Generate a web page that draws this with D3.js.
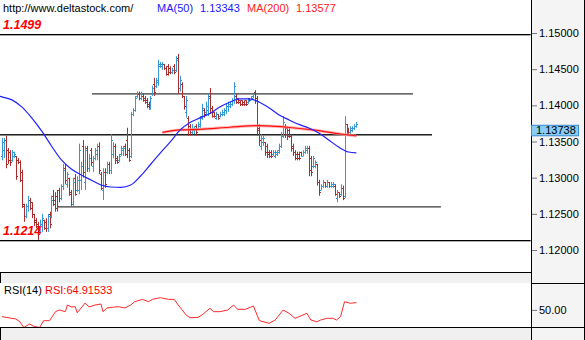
<!DOCTYPE html>
<html><head><meta charset="utf-8">
<script src="https://cdn.jsdelivr.net/npm/d3@7"></script>
<style>body{margin:0;background:#fff}svg{display:block}text{font-family:"Liberation Sans",Arial,sans-serif}</style>
</head><body><svg id="c" width="585" height="340"></svg>
<script>
// ---------- DATA ----------
const opens=[
1.1330,1.1338,1.1352,1.1338,1.1336,1.1324,1.1330,1.1330,1.1324,1.1322,
1.1308,1.1264,1.1247,1.1261,1.1269,1.1266,1.1250,1.1242,1.1236,1.1225,
1.1233,1.1242,1.1239,1.1230,1.1250,1.1247,1.1275,1.1269,1.1275,1.1283,
1.1272,1.1289,1.1313,1.1291,1.1300,1.1280,1.1264,1.1300,1.1283,1.1283,
1.1297,1.1344,1.1294,1.1341,1.1313,1.1338,1.1316,1.1327,1.1333,1.1344,
1.1305,1.1283,1.1308,1.1308,1.1319,1.1311,1.1333,1.1344,1.1327,1.1324,
1.1333,1.1338,1.1344,1.1352,1.1338,1.1330,1.1388,1.1394,1.1413,1.1416,
1.1410,1.1413,1.1410,1.1407,1.1402,1.1396,1.1416,1.1430,1.1427,1.1432,
1.1454,1.1454,1.1457,1.1452,1.1454,1.1452,1.1446,1.1454,1.1449,1.1466,
1.1424,1.1430,1.1413,1.1391,1.1383,1.1371,1.1363,1.1366,1.1371,1.1369,
1.1371,1.1385,1.1394,1.1391,1.1394,1.1413,1.1396,1.1391,1.1383,1.1388,
1.1385,1.1388,1.1388,1.1394,1.1399,1.1399,1.1402,1.1407,1.1413,1.1410,
1.1407,1.1407,1.1405,1.1407,1.1405,1.1410,1.1407,1.1410,1.1419,1.1410,
1.1369,1.1344,1.1349,1.1349,1.1344,1.1336,1.1336,1.1333,1.1330,1.1333,
1.1336,1.1344,1.1358,1.1371,1.1369,1.1366,1.1358,1.1344,1.1336,1.1333,
1.1333,1.1336,1.1330,1.1336,1.1338,1.1341,1.1327,1.1316,1.1316,1.1319,
1.1294,1.1283,1.1289,1.1294,1.1289,1.1294,1.1289,1.1289,1.1289,1.1272,
1.1280,1.1277,1.1286,1.1275,1.1374,1.1366,1.1363,1.1366,1.1369,1.1371];
const highs=[
1.1355,1.1355,1.1358,1.1341,1.1338,1.1338,1.1336,1.1330,1.1327,1.1324,
1.1311,1.1264,1.1264,1.1275,1.1272,1.1266,1.1250,1.1244,1.1239,1.1242,
1.1250,1.1242,1.1244,1.1250,1.1253,1.1275,1.1283,1.1280,1.1283,1.1286,
1.1291,1.1319,1.1319,1.1308,1.1300,1.1283,1.1300,1.1305,1.1302,1.1347,
1.1322,1.1352,1.1344,1.1344,1.1333,1.1341,1.1330,1.1341,1.1347,1.1349,
1.1308,1.1313,1.1313,1.1322,1.1322,1.1360,1.1349,1.1347,1.1330,1.1333,
1.1344,1.1344,1.1347,1.1369,1.1341,1.1391,1.1396,1.1413,1.1419,1.1419,
1.1419,1.1416,1.1413,1.1410,1.1405,1.1413,1.1427,1.1438,1.1438,1.1463,
1.1460,1.1460,1.1457,1.1454,1.1457,1.1454,1.1452,1.1457,1.1468,1.1471,
1.1441,1.1432,1.1413,1.1413,1.1385,1.1374,1.1374,1.1371,1.1374,1.1377,
1.1385,1.1402,1.1396,1.1405,1.1416,1.1424,1.1399,1.1391,1.1391,1.1388,
1.1391,1.1394,1.1396,1.1402,1.1405,1.1405,1.1410,1.1432,1.1416,1.1410,
1.1407,1.1407,1.1407,1.1407,1.1410,1.1410,1.1413,1.1416,1.1421,1.1413,
1.1374,1.1360,1.1358,1.1349,1.1347,1.1338,1.1338,1.1338,1.1338,1.1338,
1.1347,1.1363,1.1385,1.1374,1.1371,1.1369,1.1360,1.1347,1.1338,1.1336,
1.1336,1.1336,1.1338,1.1344,1.1344,1.1344,1.1330,1.1330,1.1324,1.1319,
1.1297,1.1291,1.1297,1.1294,1.1297,1.1294,1.1294,1.1294,1.1291,1.1283,
1.1280,1.1291,1.1289,1.1385,1.1374,1.1369,1.1371,1.1371,1.1374,1.1377];
const lows=[
1.1324,1.1327,1.1313,1.1319,1.1316,1.1322,1.1327,1.1297,1.1319,1.1294,
1.1258,1.1239,1.1244,1.1253,1.1255,1.1244,1.1233,1.1230,1.1214,1.1222,
1.1225,1.1228,1.1225,1.1225,1.1230,1.1244,1.1261,1.1253,1.1253,1.1266,
1.1269,1.1283,1.1291,1.1286,1.1275,1.1261,1.1261,1.1275,1.1280,1.1277,
1.1283,1.1300,1.1283,1.1308,1.1308,1.1316,1.1308,1.1324,1.1324,1.1305,
1.1283,1.1269,1.1286,1.1305,1.1305,1.1305,1.1327,1.1319,1.1319,1.1322,
1.1330,1.1330,1.1330,1.1327,1.1322,1.1327,1.1385,1.1391,1.1410,1.1407,
1.1407,1.1405,1.1402,1.1396,1.1394,1.1394,1.1413,1.1413,1.1424,1.1427,
1.1452,1.1449,1.1449,1.1441,1.1441,1.1443,1.1443,1.1443,1.1446,1.1416,
1.1419,1.1410,1.1394,1.1383,1.1358,1.1358,1.1360,1.1360,1.1358,1.1366,
1.1369,1.1380,1.1383,1.1385,1.1385,1.1388,1.1383,1.1383,1.1380,1.1380,
1.1383,1.1385,1.1385,1.1388,1.1391,1.1396,1.1399,1.1402,1.1402,1.1402,
1.1399,1.1399,1.1399,1.1399,1.1402,1.1405,1.1407,1.1410,1.1402,1.1358,
1.1344,1.1338,1.1344,1.1330,1.1327,1.1327,1.1327,1.1330,1.1327,1.1330,
1.1333,1.1341,1.1355,1.1355,1.1352,1.1355,1.1336,1.1330,1.1324,1.1324,
1.1324,1.1330,1.1330,1.1333,1.1333,1.1302,1.1302,1.1313,1.1313,1.1289,
1.1275,1.1283,1.1286,1.1286,1.1286,1.1286,1.1286,1.1286,1.1275,1.1266,
1.1272,1.1275,1.1269,1.1272,1.1360,1.1358,1.1360,1.1363,1.1366,1.1369];
const closes=[
1.1349,1.1352,1.1319,1.1324,1.1322,1.1336,1.1333,1.1302,1.1322,1.1297,
1.1261,1.1247,1.1261,1.1269,1.1258,1.1250,1.1239,1.1233,1.1222,1.1236,
1.1244,1.1230,1.1230,1.1247,1.1236,1.1269,1.1264,1.1258,1.1261,1.1272,
1.1289,1.1311,1.1297,1.1305,1.1277,1.1264,1.1294,1.1277,1.1297,1.1338,
1.1316,1.1308,1.1338,1.1313,1.1327,1.1322,1.1327,1.1338,1.1344,1.1311,
1.1286,1.1308,1.1291,1.1319,1.1311,1.1352,1.1344,1.1324,1.1322,1.1330,
1.1341,1.1341,1.1333,1.1338,1.1324,1.1388,1.1394,1.1410,1.1416,1.1410,
1.1416,1.1407,1.1405,1.1399,1.1396,1.1410,1.1424,1.1419,1.1435,1.1457,
1.1457,1.1457,1.1452,1.1443,1.1446,1.1446,1.1449,1.1446,1.1463,1.1424,
1.1435,1.1413,1.1399,1.1407,1.1366,1.1363,1.1369,1.1369,1.1363,1.1374,
1.1383,1.1396,1.1388,1.1399,1.1410,1.1396,1.1385,1.1385,1.1388,1.1383,
1.1388,1.1391,1.1394,1.1399,1.1402,1.1402,1.1407,1.1427,1.1405,1.1405,
1.1402,1.1402,1.1402,1.1402,1.1407,1.1407,1.1413,1.1416,1.1407,1.1366,
1.1352,1.1355,1.1355,1.1336,1.1333,1.1330,1.1330,1.1336,1.1336,1.1338,
1.1344,1.1358,1.1377,1.1360,1.1358,1.1358,1.1341,1.1336,1.1327,1.1327,
1.1327,1.1330,1.1336,1.1341,1.1341,1.1311,1.1308,1.1327,1.1322,1.1294,
1.1280,1.1289,1.1294,1.1289,1.1294,1.1289,1.1291,1.1291,1.1277,1.1280,
1.1275,1.1286,1.1272,1.1374,1.1363,1.1360,1.1369,1.1369,1.1371,1.13738];

const ma50Idx=[-1,0,5,10,15,20,25,30,35,40,45,50,55,60,65,70,75,80,85,90,95,100,105,110,115,120,125,130,135,140,145,150,155,160,165,170,175,179];
const ma50Val=[1.14125,1.14116,1.14075,1.13978,1.13826,1.13646,1.13438,1.13245,1.13120,1.13037,1.12968,1.12899,1.12871,1.12867,1.12899,1.13023,1.13182,1.13342,1.13494,1.13660,1.13763,1.13826,1.13886,1.13978,1.14043,1.14088,1.14088,1.14043,1.13964,1.13867,1.13798,1.13736,1.13687,1.13618,1.13521,1.13424,1.13355,1.13343];
const ma200Idx=[81,90,100,115,129,134,144,157,171,179];
const ma200Val=[1.13625,1.13660,1.13669,1.13697,1.13719,1.13715,1.13697,1.13660,1.13604,1.13577];

const rsiIdx=[0,4,7,9,11,14,16,19,21,24,27,29,32,33,35,37,38,40,42,44,47,50,51,53,57,59,62,65,67,71,74,76,80,84,87,89,91,93,95,99,101,103,105,107,110,114,117,119,123,127,130,135,138,142,145,148,150,154,156,159,161,164,167,169,171,173,176,179];
const rsiVal=[36.1,33.4,31.4,25.8,14,21.1,16.5,14,27.9,27.9,46.3,49.8,46.3,60,56,56.5,44.2,53.9,64.1,55.9,60,62,46.3,53.9,55.9,56.5,53.9,60,66.7,71.6,66.7,71.6,74.9,71.6,71.6,60,49.8,39.5,34,34.8,39.5,46.3,53.2,46.3,46.3,49.8,60,51.2,51.2,57.9,27.9,22.6,29.3,49.8,43,32.8,36.1,43,29.3,25.8,29.3,32.8,32.8,29.3,36.1,66.7,63.5,64.91533];

const levelPrices=[1.1499,1.1214,1.14175,1.13597,1.12613];
const levelFrom=[-1,-1,45.5,-1,27.8];
const levelTo=[267,267,207.6,217.2,221.7];
const levelKind=['black','black','gray','dark','gray'];
const levelLabels=['1.1499','1.1214'];

const priceTicks=[1.12,1.125,1.13,1.135,1.14,1.145,1.15];
const rsiTicks=[50];
const lastPrice=1.13738;
const ma50Last=1.13343, ma200Last=1.13577, rsiLast=64.91533;

// ---------- DRAW ----------
const W=585,H=340,PR=531;
const svg=d3.select('#c');
const x=d3.scaleLinear().domain([0,179]).range([2,356.4]);
const y=d3.scaleLinear().domain([1.12,1.15]).range([250,33]);
const yr=d3.scaleLinear().domain([15,105]).range([327,283]);

svg.append('rect').attr('width',W).attr('height',H).attr('fill','#fff');
svg.append('rect').attr('x',0).attr('y',272).attr('width',PR).attr('height',11).attr('fill','#f0f0f0');
svg.append('rect').attr('x',0).attr('y',327).attr('width',PR).attr('height',13).attr('fill','#f0f0f0');
svg.append('rect').attr('x',PR).attr('y',0).attr('width',W-PR).attr('height',H).attr('fill','#f4f4f4');

const defs=svg.append('defs');
defs.append('clipPath').attr('id','cp').append('rect').attr('x',0).attr('y',0).attr('width',PR).attr('height',272);
defs.append('clipPath').attr('id','cr').append('rect').attr('x',0).attr('y',283).attr('width',PR).attr('height',44);

// level lines
const lv=svg.append('g');
levelPrices.forEach((p,i)=>{
  const k=levelKind[i];
  const yy=Math.round(y(p));
  const x0=Math.max(0,x(levelFrom[i])), x1=Math.min(PR,x(levelTo[i]));
  if(k==='gray'){
    lv.append('line').attr('x1',x0).attr('x2',x1).attr('y1',yy+0.5).attr('y2',yy+0.5).attr('stroke','#6a6a6a').attr('stroke-width',1);
    lv.append('line').attr('x1',x0).attr('x2',x1).attr('y1',yy+1.5).attr('y2',yy+1.5).attr('stroke','#9a9a9a').attr('stroke-width',1);
  } else if(k==='dark'){
    lv.append('line').attr('x1',x0).attr('x2',x1).attr('y1',yy+0.5).attr('y2',yy+0.5).attr('stroke','#222').attr('stroke-width',1);
    lv.append('line').attr('x1',x0).attr('x2',x1).attr('y1',yy+1.5).attr('y2',yy+1.5).attr('stroke','#888').attr('stroke-width',1);
  } else {
    lv.append('line').attr('x1',x0).attr('x2',x1).attr('y1',yy+0.5).attr('y2',yy+0.5).attr('stroke','#000').attr('stroke-width',1);
    lv.append('line').attr('x1',x0).attr('x2',x1).attr('y1',yy+1.5).attr('y2',yy+1.5).attr('stroke','#777').attr('stroke-width',0.6);
  }
});

// bars
const bars=svg.append('g').attr('clip-path','url(#cp)');
opens.forEach((o,i)=>{
  const xi=Math.round(x(i))+0.5;
  const up=closes[i]>=o;
  const d=`M${xi},${y(highs[i])}V${y(lows[i])}M${xi-1.5},${Math.round(y(o))+0.5}H${xi}M${xi},${Math.round(y(closes[i]))+0.5}H${xi+1.5}`;
  bars.append('path').attr('d',d).attr('fill','none').attr('stroke',up?'#3399d6':'#ad2b2b').attr('stroke-width',1);
});

// MAs
const ln=d3.line().curve(d3.curveMonotoneX);
const m200=ma200Idx.map((v,i)=>[x(v),y(ma200Val[i])]);
svg.append('path').attr('d',ln(m200)).attr('fill','none').attr('stroke','#ff9a9a').attr('stroke-width',3).attr('opacity',0.7);
svg.append('path').attr('d',ln(m200)).attr('fill','none').attr('stroke','#ff1010').attr('stroke-width',1.2);
const m50=ma50Idx.map((v,i)=>[x(v),y(ma50Val[i])]);
svg.append('path').attr('d',ln(m50)).attr('fill','none').attr('stroke','#2020ff').attr('stroke-width',1.2);

// level labels
const lf='"DejaVu Sans",Verdana,sans-serif';
svg.append('text').attr('x',3).attr('y',y(levelPrices[0])-5).text(levelLabels[0]).attr('font-family',lf).attr('font-weight','bold').attr('font-style','italic').attr('font-size',12.5).attr('fill','#ff0000');
svg.append('text').attr('x',3).attr('y',y(levelPrices[1])-4.5).text(levelLabels[1]).attr('font-family',lf).attr('font-weight','bold').attr('font-style','italic').attr('font-size',12.5).attr('fill','#ff0000');

// header
const hd=svg.append('g').attr('font-size',11);
hd.append('text').attr('x',3).attr('y',12).text('http://www.deltastock.com/').attr('fill','#000');
hd.append('text').attr('x',157).attr('y',12).text('MA(50)').attr('fill','#2020ff');
hd.append('text').attr('x',200).attr('y',12).text(ma50Last.toFixed(5)).attr('fill','#2020ff');
hd.append('text').attr('x',247).attr('y',12).text('MA(200)').attr('fill','#ff2020');
hd.append('text').attr('x',296).attr('y',12).text(ma200Last.toFixed(5)).attr('fill','#ff2020');

// RSI
const rl=d3.line();
svg.append('g').attr('clip-path','url(#cr)').append('path')
  .attr('d',rl(rsiIdx.map((v,i)=>[x(v),yr(rsiVal[i])])))
  .attr('fill','none').attr('stroke','#ff2a2a').attr('stroke-width',1);
svg.append('text').attr('x',4).attr('y',294).attr('font-size',11).attr('fill','#000').text('RSI(14)');
svg.append('text').attr('x',45).attr('y',294).attr('font-size',11).attr('fill','#ff0000').text('RSI:'+rsiLast.toFixed(5));

// borders
const bd=svg.append('g').attr('stroke','#000').attr('stroke-width',1);
bd.append('line').attr('x1',0).attr('x2',PR).attr('y1',272.5).attr('y2',272.5);
bd.append('line').attr('x1',0).attr('x2',W).attr('y1',327.5).attr('y2',327.5);
bd.append('line').attr('x1',PR).attr('x2',W).attr('y1',283.5).attr('y2',283.5);
bd.append('line').attr('x1',PR+0.5).attr('x2',PR+0.5).attr('y1',0).attr('y2',H);
bd.append('line').attr('x1',W-0.5).attr('x2',W-0.5).attr('y1',0).attr('y2',H);
bd.append('line').attr('x1',0.5).attr('x2',0.5).attr('y1',272).attr('y2',283);
bd.append('line').attr('x1',0.5).attr('x2',0.5).attr('y1',327).attr('y2',H);

// axes
const ax=svg.append('g').attr('transform',`translate(${PR+1},0)`)
  .call(d3.axisRight(y).tickValues(priceTicks).tickSize(5).tickPadding(2).tickFormat(d3.format('.5f')));
const axr=svg.append('g').attr('transform',`translate(${PR+1},0)`)
  .call(d3.axisRight(yr).tickValues(rsiTicks).tickSize(5).tickPadding(2).tickFormat(d3.format('.2f')));
[ax,axr].forEach(a=>{
  a.select('.domain').remove();
  a.selectAll('line').attr('stroke','#777');
  a.selectAll('text').attr('font-family','"Liberation Sans",Arial,sans-serif').attr('font-size',11).attr('fill','#000');
});

// last price box
const ly=y(lastPrice);
svg.append('rect').attr('x',PR+0.5).attr('y',ly+1).attr('width',47).attr('height',10.5).attr('fill','#87cdf5').attr('stroke','#3a8cd0').attr('stroke-width',1);
svg.append('text').attr('x',PR+5).attr('y',ly+10).attr('font-size',11).attr('fill','#000').text(lastPrice.toFixed(5));
</script></body></html>
